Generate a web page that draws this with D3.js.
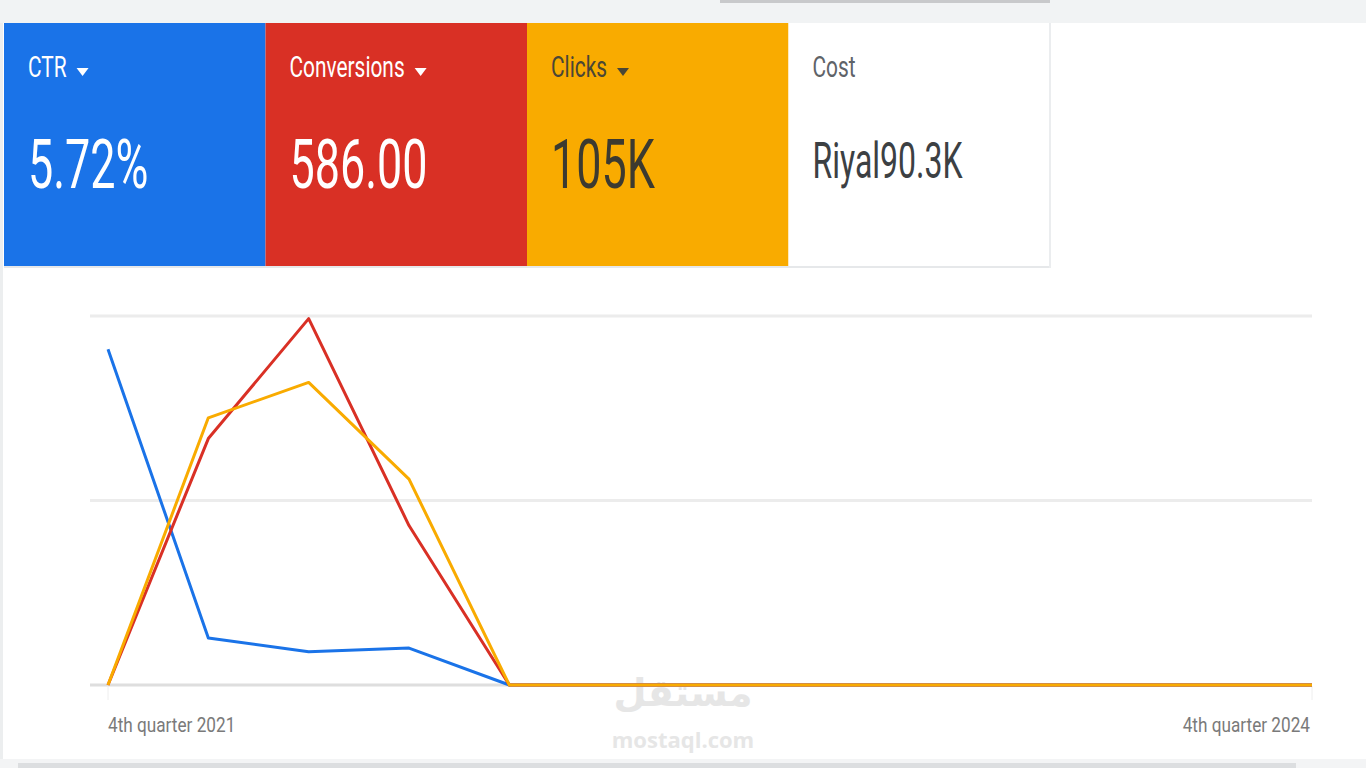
<!DOCTYPE html>
<html>
<head>
<meta charset="utf-8">
<script src="https://cdn.jsdelivr.net/npm/d3@7"></script>
<style>
  body { margin: 0; background: #fff; }
  svg { display: block; font-family: Roboto, "Noto Sans", sans-serif; }
</style>
</head>
<body>
<svg id="chart" width="1366" height="768"></svg>
<script>
// quarters along the x axis
var quarters = ["Q4 2021", "Q1 2022", "Q2 2022", "Q3 2022", "Q4 2022", "Q1 2023", "Q2 2023",
                "Q3 2023", "Q4 2023", "Q1 2024", "Q2 2024", "Q3 2024", "Q4 2024"];
var axisLabels = ["4th quarter 2021", "4th quarter 2024"];

// metric cards
var cardNames  = ["CTR", "Conversions", "Clicks", "Cost"];
var cardValues = ["5.72%", "586.00", "105K", "Riyal90.3K"];

// series (each has its own axis, like the ads dashboard)
var ctr         = [18.2, 2.55, 1.8, 2.0, 0, 0, 0, 0, 0, 0, 0, 0, 0];
var conversions = [0, 187, 278, 121, 0, 0, 0, 0, 0, 0, 0, 0, 0];
var clicks      = [0, 36200, 41000, 27900, 0, 0, 0, 0, 0, 0, 0, 0, 0];
var axisMax     = [20, 280, 50000];

var svg = d3.select("#chart");

// page chrome
svg.append("rect").attr("x", 0).attr("y", 0).attr("width", 1366).attr("height", 23).attr("fill", "#f1f3f4");
svg.append("rect").attr("x", 720).attr("y", 0).attr("width", 330).attr("height", 3).attr("fill", "#c8c9cb");
svg.append("rect").attr("x", 0).attr("y", 23).attr("width", 3).attr("height", 745).attr("fill", "#eceeef");
svg.append("rect").attr("x", 0).attr("y", 759).attr("width", 1366).attr("height", 9).attr("fill", "#f3f4f5");
svg.append("rect").attr("x", 18).attr("y", 763).attr("width", 1278).attr("height", 5).attr("fill", "#dcdee0");

// cards
var cardX = d3.scaleBand().domain(cardNames).range([4, 1050]);
var cardFill = { CTR: "#1a73e8", Conversions: "#d93025", Clicks: "#f9ab00", Cost: "#ffffff" };
var labelFill = { CTR: "#ffffff", Conversions: "#ffffff", Clicks: "#4a4636", Cost: "#5f6368" };
var valueFill = { CTR: "#ffffff", Conversions: "#ffffff", Clicks: "#3c3a30", Cost: "#3c4043" };

var cards = svg.selectAll("g.card")
  .data(cardNames)
  .enter().append("g")
  .attr("class", "card")
  .attr("transform", function (d) { return "translate(" + cardX(d) + ",23)"; });

cards.append("rect")
  .attr("width", cardX.bandwidth())
  .attr("height", 244)
  .attr("fill", function (d) { return cardFill[d]; });

svg.append("rect").attr("x", 4).attr("y", 266).attr("width", 1046).attr("height", 2).attr("fill", "#e6e8ea");
svg.append("rect").attr("x", 1049).attr("y", 23).attr("width", 2).attr("height", 245).attr("fill", "#ebedef");

cards.append("text")
  .attr("transform", "translate(24,54) scale(0.72,1)")
  .attr("font-size", 29)
  .attr("fill", function (d) { return labelFill[d]; })
  .text(function (d) { return d; });

// dropdown arrows on first three cards
cards.filter(function (d) { return d !== "Cost"; })
  .append("path")
  .attr("transform", function (d) {
    var w = this.parentNode.querySelector("text").getComputedTextLength() * 0.72;
    return "translate(" + (24 + w + 10) + ",45)";
  })
  .attr("d", "M0,0 L12,0 L6,8 Z")
  .attr("fill", function (d) { return labelFill[d]; });

cards.append("text")
  .attr("transform", function (d) {
    return d === "Cost" ? "translate(24,155) scale(0.64,1)" : "translate(24,165) scale(0.66,1)";
  })
  .attr("font-size", function (d) { return d === "Cost" ? 50 : 68; })
  .attr("fill", function (d) { return valueFill[d]; })
  .text(function (d, i) { return cardValues[i]; });

// chart
var x = d3.scalePoint().domain(quarters).range([108, 1312]);
var grid = d3.scaleLinear().domain([0, 1]).range([685, 316]);

svg.append("g").selectAll("line")
  .data([0, 0.5, 1])
  .enter().append("line")
  .attr("x1", 90).attr("x2", 1312)
  .attr("y1", function (d) { return grid(d); })
  .attr("y2", function (d) { return grid(d); })
  .attr("stroke", function (d) { return d === 0 ? "#dedede" : "#ececec"; })
  .attr("stroke-width", 3);

svg.append("g").selectAll("line")
  .data([quarters[0], quarters[quarters.length - 1]])
  .enter().append("line")
  .attr("x1", function (d) { return x(d); }).attr("x2", function (d) { return x(d); })
  .attr("y1", 686).attr("y2", 700)
  .attr("stroke", "#eeeeee").attr("stroke-width", 1);

// watermark
svg.append("text")
  .attr("x", 683).attr("y", 706)
  .attr("text-anchor", "middle")
  .attr("font-family", "'Noto Sans', 'DejaVu Sans', sans-serif")
  .attr("font-weight", "bold").attr("font-size", 38)
  .attr("fill", "#e6e6e6")
  .text("مستقل");
svg.append("text")
  .attr("x", 683).attr("y", 748)
  .attr("text-anchor", "middle")
  .attr("font-family", "'Open Sans', sans-serif")
  .attr("font-weight", "bold").attr("font-size", 22)
  .attr("fill", "#e6e6e6")
  .text("mostaql.com");

var series = [
  { name: "CTR", values: ctr, color: "#1a73e8", max: axisMax[0] },
  { name: "Conversions", values: conversions, color: "#d93025", max: axisMax[1] },
  { name: "Clicks", values: clicks, color: "#f9ab00", max: axisMax[2] }
];

series.forEach(function (s) {
  var y = d3.scaleLinear().domain([0, s.max]).range([685, 316]);
  var line = d3.line()
    .x(function (d, i) { return x(quarters[i]); })
    .y(function (d) { return y(d); });
  svg.append("path")
    .datum(s.values)
    .attr("fill", "none")
    .attr("stroke", s.color)
    .attr("stroke-width", 3)
    .attr("stroke-linejoin", "round")
    .attr("d", line);
});

// x labels
svg.append("text")
  .attr("transform", "translate(" + x(quarters[0]) + ",732) scale(0.86,1)")
  .attr("font-size", 20).attr("fill", "#7a7a7a")
  .text(axisLabels[0]);
svg.append("text")
  .attr("transform", "translate(" + (x(quarters[quarters.length - 1]) - 2) + ",732) scale(0.86,1)")
  .attr("text-anchor", "end")
  .attr("font-size", 20).attr("fill", "#7a7a7a")
  .text(axisLabels[1]);
</script>
</body>
</html>
